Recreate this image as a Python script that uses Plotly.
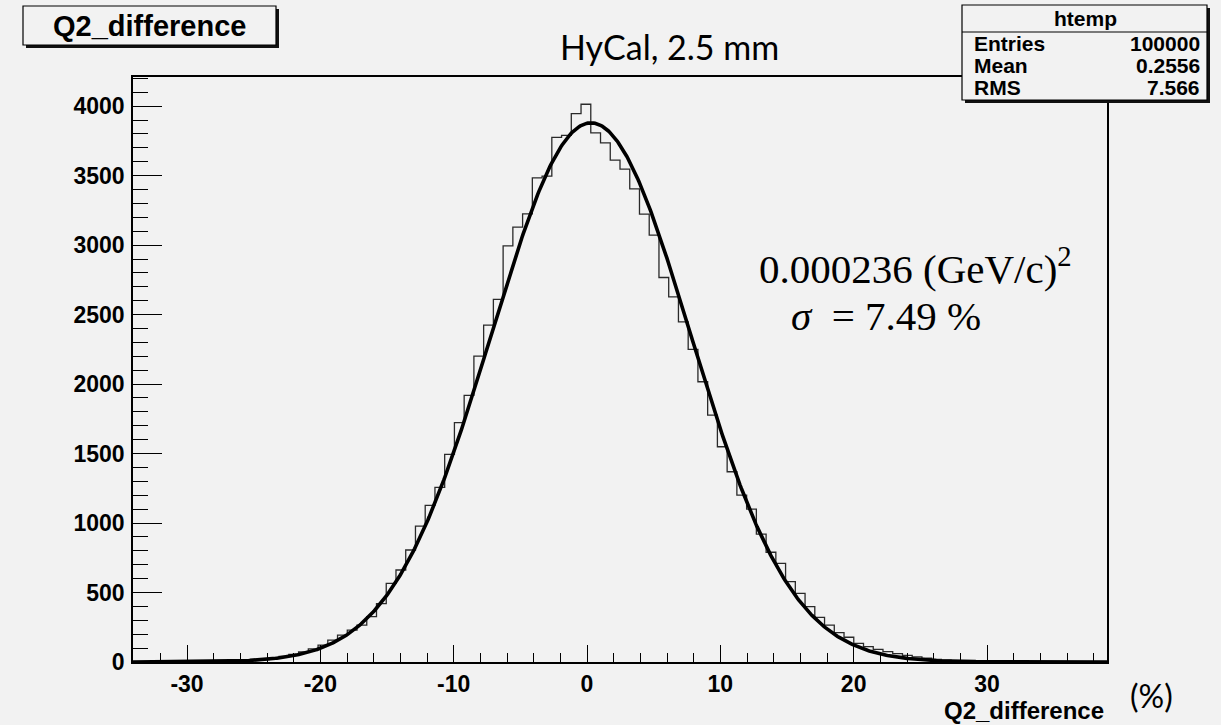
import numpy as np
import plotly.graph_objects as go

# ---------------- data ----------------
X_MIN = -34.05
X_MAX = 39.0
BIN_WIDTH = 0.7305
COUNTS = [
    0, 0, 0, 0, 0, 0, 0, 1, 1, 2,
    4, 7, 11, 17, 27, 40, 55, 72, 95, 122,
    158, 194, 230, 266, 326, 420, 566, 662, 806, 978,
    1127, 1257, 1494, 1722, 1919, 2201, 2424, 2609, 2995, 3129,
    3225, 3484, 3496, 3775, 3790, 3947, 4014, 3808, 3736, 3612,
    3547, 3405, 3223, 3072, 2767, 2628, 2448, 2250, 2017, 1777,
    1549, 1369, 1201, 1100, 920, 790, 710, 578, 494, 398,
    321, 266, 211, 178, 134, 110, 91, 74, 60, 48,
    37, 27, 19, 13, 9, 6, 4, 2, 1, 1,
    0, 0, 0, 0, 0, 0, 0, 0, 0, 0,
]
FIT_AMPLITUDE = 3880
FIT_MEAN = 0.3
FIT_SIGMA = 7.49
Y_MAX = 4210
X_TICKS = [-30, -20, -10, 0, 10, 20, 30]
Y_TICKS = [0, 500, 1000, 1500, 2000, 2500, 3000, 3500, 4000]
STATS_TITLE = "htemp"
STATS_LABELS = ["Entries", "Mean", "RMS"]
STATS_VALUES = ["100000", "0.2556", "7.566"]
HIST_TITLE = "Q2_difference"
PLOT_TITLE = "HyCal, 2.5 mm"
FIT_TEXT_1 = "0.000236 (GeV/c)<sup>2</sup>"
FIT_TEXT_2 = "<i>σ</i>  = 7.49 %"

# ---------------- geometry helpers (page pixels) ----------------
W, H = 1221, 725
L, R, T, B = 133, 1107, 77, 662
BG = "#f2f2f2"


def px(x):
    return (x - L) / (R - L)


def py(y):
    return (B - y) / (B - T)


edges = X_MIN + BIN_WIDTH * np.arange(len(COUNTS) + 1)
hist_y = list(COUNTS) + [COUNTS[-1]]

fx = np.linspace(X_MIN, X_MAX, 800)
fy = FIT_AMPLITUDE * np.exp(-0.5 * ((fx - FIT_MEAN) / FIT_SIGMA) ** 2)

fig = go.Figure()
fig.add_trace(go.Scatter(x=edges, y=hist_y, mode="lines", line=dict(shape="hv", color="#2a2a2a", width=1.3),
                         hoverinfo="skip", showlegend=False))
fig.add_trace(go.Scatter(x=fx, y=fy, mode="lines", line=dict(color="black", width=3.6),
                         hoverinfo="skip", showlegend=False))

tickfont = dict(family="Liberation Sans", size=23, color="black", weight="bold")

fig.update_xaxes(range=[X_MIN, X_MAX], tickvals=X_TICKS, ticktext=[str(v) for v in X_TICKS],
                 ticks="inside", ticklen=17, tickwidth=1.3, tickcolor="black",
                 minor=dict(dtick=2, tick0=0, ticks="inside", ticklen=9, tickwidth=1.3, tickcolor="black"),
                 showline=True, linecolor="black", linewidth=1.6, mirror=True,
                 showgrid=False, zeroline=False, tickfont=tickfont, ticklabelstandoff=1)
fig.update_yaxes(range=[0, Y_MAX], tickvals=Y_TICKS, ticktext=[str(v) for v in Y_TICKS],
                 ticks="inside", ticklen=29, tickwidth=1.3, tickcolor="black",
                 minor=dict(dtick=100, tick0=0, ticks="inside", ticklen=15, tickwidth=1.3, tickcolor="black"),
                 showline=True, linecolor="black", linewidth=1.6, mirror=True,
                 showgrid=False, zeroline=False, tickfont=tickfont, ticklabelstandoff=2)

shapes = []
annotations = []

# title box with shadow
shapes.append(dict(type="rect", xref="paper", yref="paper", x0=px(26), x1=px(279), y0=py(9), y1=py(48),
                   fillcolor="#111111", line=dict(width=0), layer="above"))
shapes.append(dict(type="rect", xref="paper", yref="paper", x0=px(23), x1=px(276), y0=py(6), y1=py(45),
                   fillcolor=BG, line=dict(color="black", width=1.2), layer="above"))
annotations.append(dict(xref="paper", yref="paper", x=px(149), y=py(26), text=HIST_TITLE, showarrow=False,
                        xanchor="center", yanchor="middle",
                        font=dict(family="Liberation Sans", size=29, color="black", weight="bold")))

# stats box with shadow
shapes.append(dict(type="rect", xref="paper", yref="paper", x0=px(965), x1=px(1210), y0=py(8), y1=py(103),
                   fillcolor="#111111", line=dict(width=0), layer="above"))
shapes.append(dict(type="rect", xref="paper", yref="paper", x0=px(962), x1=px(1207), y0=py(5), y1=py(100),
                   fillcolor=BG, line=dict(color="black", width=1.2), layer="above"))
shapes.append(dict(type="line", xref="paper", yref="paper", x0=px(962), x1=px(1207), y0=py(32), y1=py(32),
                   line=dict(color="black", width=1.2), layer="above"))
statfont = dict(family="Liberation Sans", size=21, color="black", weight="bold")
annotations.append(dict(xref="paper", yref="paper", x=px(1085), y=py(19), text=STATS_TITLE, showarrow=False,
                        xanchor="center", yanchor="middle", font=statfont))
for i, (lab, val) in enumerate(zip(STATS_LABELS, STATS_VALUES)):
    yy = 44 + 21.5 * i
    annotations.append(dict(xref="paper", yref="paper", x=px(972), y=py(yy), text=lab, showarrow=False,
                            xanchor="left", yanchor="middle", font=statfont))
    annotations.append(dict(xref="paper", yref="paper", x=px(1202), y=py(yy), text=val, showarrow=False,
                            xanchor="right", yanchor="middle", font=statfont))

# plot title
annotations.append(dict(xref="paper", yref="paper", x=px(669), y=py(47), text=PLOT_TITLE, showarrow=False,
                        xanchor="center", yanchor="middle",
                        font=dict(family="Lato", size=34, color="black")))

# axis title and unit
annotations.append(dict(xref="paper", yref="paper", x=px(1106), y=py(710), text=HIST_TITLE, showarrow=False,
                        xanchor="right", yanchor="middle",
                        font=dict(family="Liberation Sans", size=24, color="black", weight="bold")))
annotations.append(dict(xref="paper", yref="paper", x=px(1151), y=py(695), text="(%)", showarrow=False,
                        xanchor="center", yanchor="middle",
                        font=dict(family="Lato", size=32, color="black")))

# fit annotations
serif = dict(family="Liberation Serif", size=41, color="black")
annotations.append(dict(xref="paper", yref="paper", x=px(757), y=py(266), text=FIT_TEXT_1, showarrow=False,
                        xanchor="left", yanchor="middle", font=serif))
annotations.append(dict(xref="paper", yref="paper", x=px(789), y=py(316), text=FIT_TEXT_2, showarrow=False,
                        xanchor="left", yanchor="middle", font=serif))

fig.update_layout(width=W, height=H,
                  margin=dict(l=L, r=W - R, t=T, b=H - B),
                  paper_bgcolor=BG, plot_bgcolor=BG, shapes=shapes, annotations=annotations,
                  showlegend=False)

fig.write_html("out.html", config={"displayModeBar": False},
               post_script="document.body.style.margin='0px';document.body.style.overflow='hidden';")
